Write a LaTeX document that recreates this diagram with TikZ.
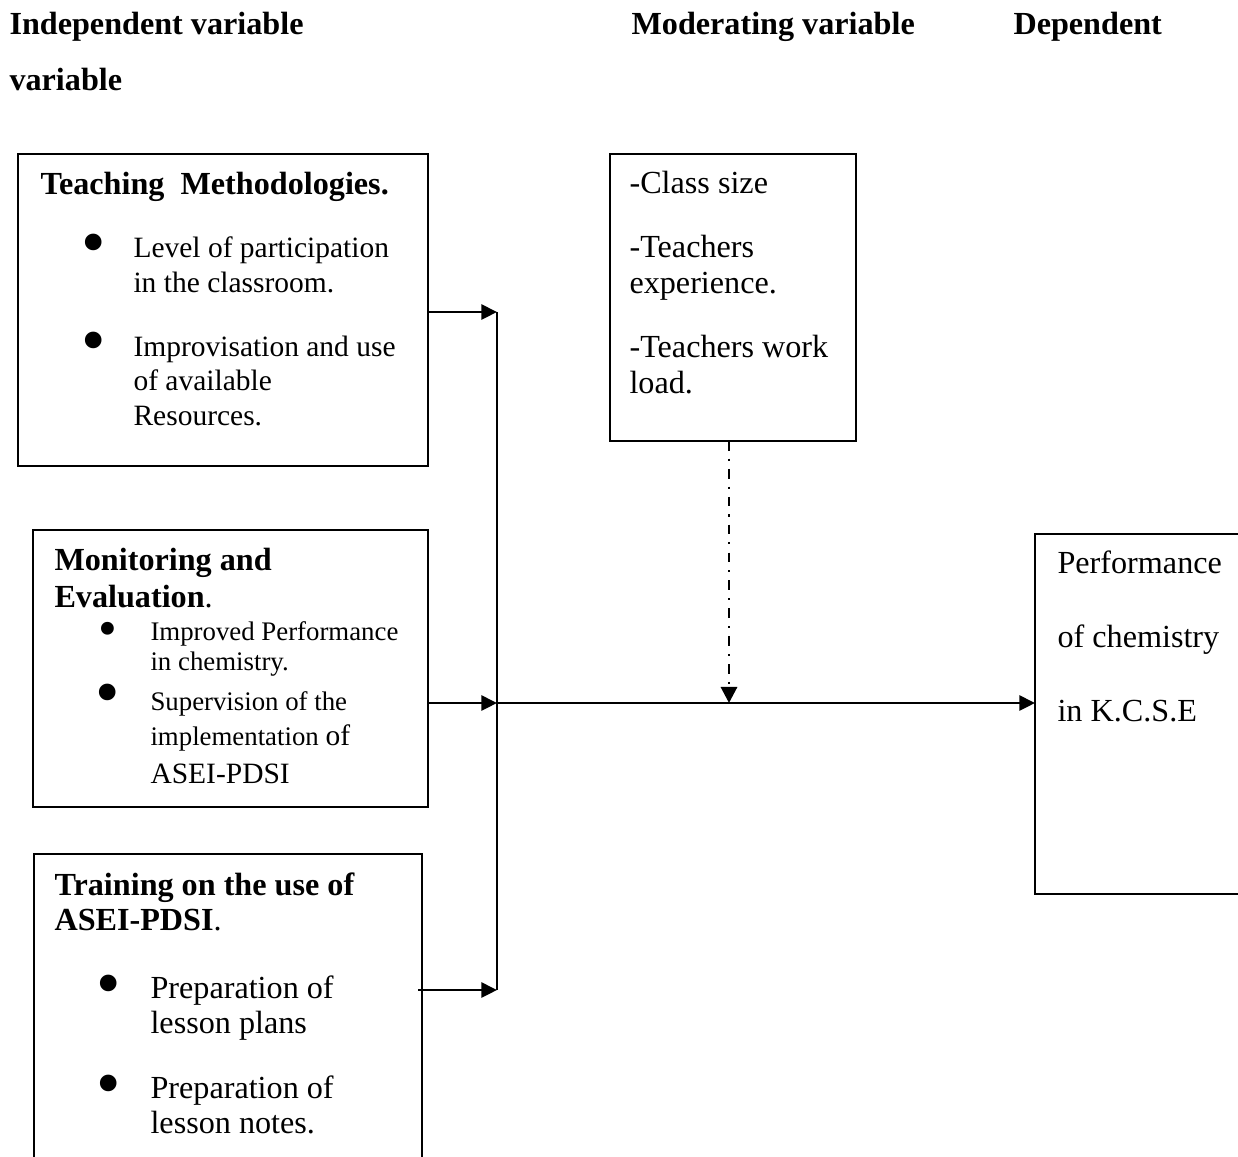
\documentclass[tikz,border=0pt]{standalone}
\usepackage{fontspec}
\setmainfont{Liberation Serif}
\usetikzlibrary{arrows.meta,calc}
\def\PX{0.373pt}
\tikzset{
 box/.style={draw, line width=0.75pt, inner sep=0pt, outer sep=0pt, anchor=north west},
 txt/.style={anchor=base west, inner sep=0pt, font=\fontsize{12}{14}\selectfont},
 mid/.style={anchor=base west, inner sep=0pt, font=\fontsize{11}{13}\selectfont},
 small/.style={anchor=base west, inner sep=0pt, font=\fontsize{10}{12}\selectfont},
 hdr/.style={anchor=base west, inner sep=0pt, font=\fontsize{12}{14}\selectfont\bfseries},
 bul/.style={anchor=center, inner sep=0pt, font=\fontsize{26}{26}\selectfont},
 sbul/.style={anchor=center, inner sep=0pt, font=\fontsize{20}{20}\selectfont},
 conn/.style={line width=0.85pt},
 arr/.style={conn, -{Triangle[length=5.8pt,width=5.6pt]}},
 dasharr/.style={line width=1.1pt, dash pattern=on 3.6pt off 3pt on 0.8pt off 3pt, -{Triangle[length=6pt,width=6pt]}},
}
\begin{document}
\begin{tikzpicture}[x=0.373pt,y=-0.373pt]
\useasboundingbox (0,0) rectangle (1238,1156);
\clip (0,0) rectangle (1238,1156);

% headers
\node[hdr] (h1) at (9,34) {Independent variable};
\node[hdr] (h2) at (631,34) {Moderating variable};
\node[hdr] (h3) at (1013,34) {Dependent};
\node[hdr] (h4) at (9,90) {variable};

% boxes
\node[box, minimum width=410*\PX, minimum height=312*\PX] (teach) at (18,154) {};
\node[box, minimum width=246*\PX, minimum height=287*\PX] (mod) at (610,154) {};
\node[box, minimum width=395*\PX, minimum height=277*\PX] (mon) at (33,530) {};
\node[box, minimum width=388*\PX, minimum height=330*\PX] (train) at (34,854) {};
\node[box, minimum width=230*\PX, minimum height=360*\PX] (dep) at (1035,534) {};

% teaching box text
\node[hdr] (ta) at (40,194) {Teaching~ Methodologies.};
\node[bul] (tb1) at (94,250) {•};
\node[mid] (tc) at (133,257) {Level of participation};
\node[mid] (td) at (133,292) {in the classroom.};
\node[bul] (tb2) at (94,348) {•};
\node[mid] (te) at (133,356) {Improvisation and use};
\node[mid] (tf) at (133,390) {of available};
\node[mid] (tg) at (133,425) {Resources.};

% moderating box text
\node[txt] (ma) at (629,193) {-Class size};
\node[txt] (mb) at (629,257) {-Teachers};
\node[txt] (mc) at (629,293) {experience.};
\node[txt] (md) at (629,357) {-Teachers work};
\node[txt] (me) at (629,393) {load.};

% monitoring box text
\node[hdr] (na) at (54,570) {Monitoring and};
\node[txt] (nb) at (54,607) {\textbf{Evaluation}.};
\node[sbul] (nb1) at (108,634) {•};
\node[small] (nc) at (150,640) {Improved Performance};
\node[small] (nd) at (150,670) {in chemistry.};
\node[bul] (nb2) at (108,700) {•};
\node[small] (ne) at (150,710) {Supervision of the};
\node[small] (nf) at (150,745) {implementation {\fontsize{11}{13}\selectfont of}};
\node[mid] (ng) at (150,783) {ASEI-PDSI};

% training box text
\node[hdr] (ra) at (54,895) {Training on the use of};
\node[txt] (rb) at (54,930) {\textbf{ASEI-PDSI}.};
\node[bul] (rb1) at (109,991) {•};
\node[txt] (rc) at (150,998) {Preparation of};
\node[txt] (rd) at (150,1033) {lesson plans};
\node[bul] (rb2) at (109,1091) {•};
\node[txt] (re) at (150,1098) {Preparation of};
\node[txt] (rf) at (150,1133) {lesson notes.};

% dependent box text
\node[txt] (da) at (1057,573) {Performance};
\node[txt] (db) at (1057,647) {of chemistry};
\node[txt] (dc) at (1057,721) {in K.C.S.E};

% connectors
\coordinate (j1) at (497,312);
\coordinate (j2) at (497,703);
\coordinate (j3) at (497,990);
\draw[conn] (j1) -- (j3);
\draw[arr] (teach.east |- j1) -- (j1);
\draw[arr] (mon.east |- j2) -- (j2);
\draw[arr] ($(train.east |- j3)+(-4,0)$) -- (j3);
\draw[arr] (j2) -- (dep.west |- j2);
\draw[dasharr] ($(mod.south)+(-4,0)$) -- ($(mod.south |- j2)+(-4,0)$);
\end{tikzpicture}
\end{document}
